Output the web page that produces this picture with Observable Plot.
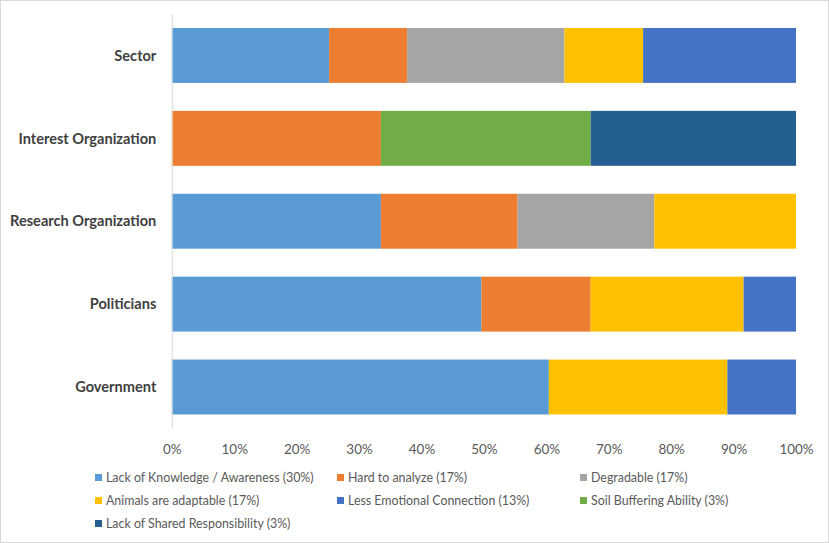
<!DOCTYPE html>
<html>
<head>
<meta charset="utf-8">
<script src="https://cdn.jsdelivr.net/npm/d3@7"></script>
<script src="https://cdn.jsdelivr.net/npm/@observablehq/plot@0.6"></script>
<style>
  html, body { margin: 0; padding: 0; background: #fff; }
  #frame { position: relative; width: 827px; height: 541px; border: 1px solid #d9d9d9; margin: 0; overflow: hidden; font-family: Lato, "Open Sans", sans-serif; }
  #chart { position: absolute; left: -1px; top: -1px; }
  .leg { position: absolute; font-size: 12.4px; color: #595959; white-space: nowrap; line-height: 14px; }
  .leg span.sw { display: inline-block; width: 7px; height: 7px; margin-right: 4px; vertical-align: 1px; }
</style>
</head>
<body>
<div id="frame"><div id="chart"></div><div id="legend"></div></div>
<script>
const groups = ["Sector", "Interest Organization", "Research Organization", "Politicians", "Government"];
const categories = [
  "Lack of Knowledge / Awareness (30%)",
  "Hard to analyze (17%)",
  "Degradable (17%)",
  "Animals are adaptable (17%)",
  "Less Emotional Connection (13%)",
  "Soil Buffering Ability (3%)",
  "Lack of Shared Responsibility (3%)"
];
const colors = ["#5B9BD5", "#ED7D31", "#A5A5A5", "#FFC000", "#4472C4", "#70AD47", "#255E91"];
// values (%) per category, in order of groups
const lackKnowledge = [25.2, 0, 33.5, 49.6, 60.4];
const hardToAnalyze = [12.5, 33.5, 21.9, 17.5, 0];
const degradable = [25.2, 0, 21.9, 0, 0];
const animalsAdaptable = [12.6, 0, 22.7, 24.5, 28.6];
const lessEmotional = [24.5, 0, 0, 8.4, 11];
const soilBuffering = [0, 33.6, 0, 0, 0];
const lackShared = [0, 32.9, 0, 0, 0];
const series = [lackKnowledge, hardToAnalyze, degradable, animalsAdaptable, lessEmotional, soilBuffering, lackShared];
const xTicks = [0, 10, 20, 30, 40, 50, 60, 70, 80, 90, 100];

const data = [];
categories.forEach((c, i) => groups.forEach((g, j) => {
  if (series[i][j] > 0) data.push({group: g, category: c, value: series[i][j]});
}));

const chart = Plot.plot({
  width: 829,
  height: 459,
  marginLeft: 172,
  marginRight: 32,
  marginTop: 14,
  marginBottom: 30,
  style: {fontFamily: "Lato, 'Open Sans', sans-serif", background: "transparent"},
  x: {domain: [0, 100], ticks: xTicks, tickFormat: d => d + "%", label: null},
  y: {domain: groups, paddingInner: 0.337, paddingOuter: 0.1685, label: null},
  color: {domain: categories, range: colors},
  marks: [
    Plot.barX(data, Plot.stackX({
      x: "value", y: "group", fill: "category", order: categories, inset: 0
    })),
    Plot.ruleX([0], {stroke: "#d9d9d9", strokeWidth: 1}),
    Plot.axisX({ticks: xTicks, tickFormat: d => d + "%", tickSize: 0, tickPadding: 15, fontSize: 13.5, fill: "#595959", label: null}),
    Plot.axisY({tickSize: 0, tickPadding: 16, fontSize: 14.6, fontWeight: "bold", fill: "#404040", label: null})
  ]
});
document.getElementById("chart").appendChild(chart);

const legendPos = [[94, 470], [336, 470], [579, 470], [94, 493], [336, 493], [579, 493], [94, 516]];
const leg = document.getElementById("legend");
categories.forEach((c, i) => {
  const d = document.createElement("div");
  d.className = "leg";
  d.style.left = legendPos[i][0] + "px";
  d.style.top = legendPos[i][1] + "px";
  d.innerHTML = `<span class="sw" style="background:${colors[i]}"></span>${c}`;
  leg.appendChild(d);
});
</script>
</body>
</html>
